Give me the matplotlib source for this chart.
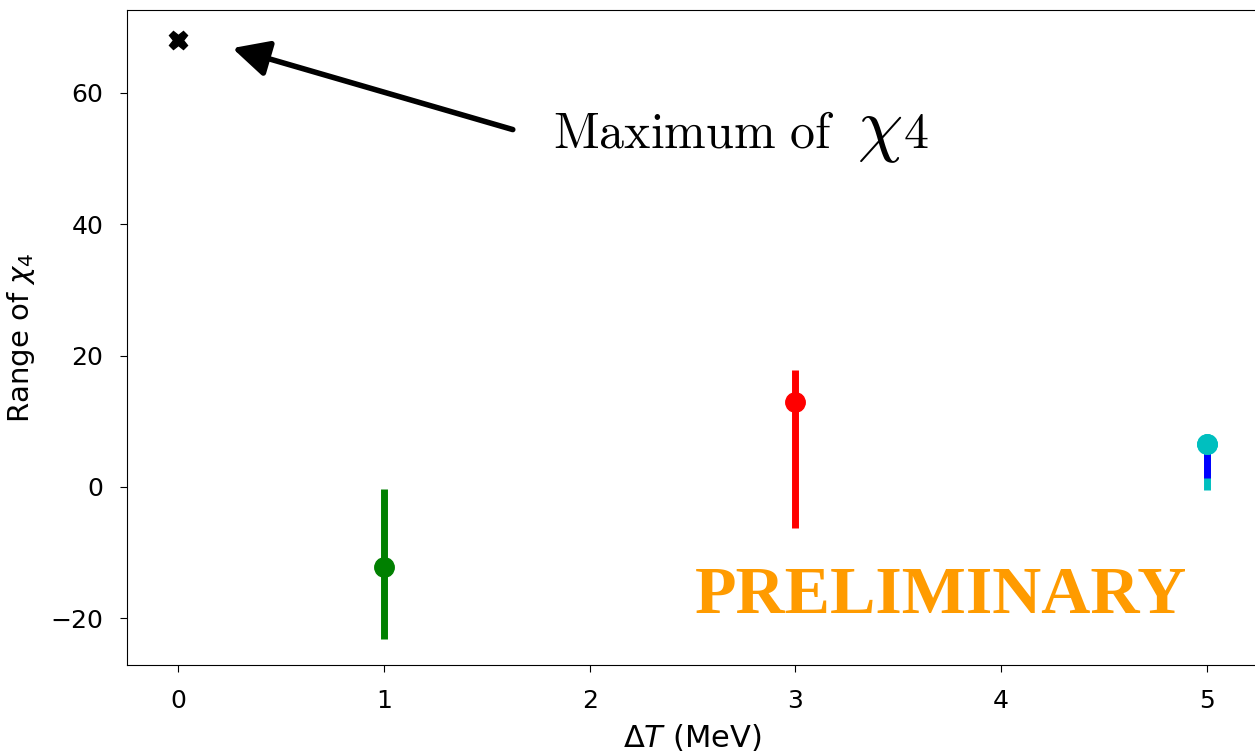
import matplotlib
matplotlib.use("Agg")
import matplotlib.pyplot as plt

plt.rcParams['mathtext.fontset'] = 'dejavusans'

# data
max_x = [0]
max_y = [68.0]

green_x = [1]
green_y = [-12.2]
green_lo = [-23.2]
green_hi = [-0.3]

red_x = [3]
red_y = [12.9]
red_lo = [-6.3]
red_hi = [17.8]

cyan_x = [5]
cyan_y = [6.5]
cyan_lo = [-0.5]
blue_lo = [1.4]

xticks = [0, 1, 2, 3, 4, 5]
yticks = [-20, 0, 20, 40, 60]

fig = plt.figure(figsize=(12.55, 7.53), dpi=100)
ax = fig.add_axes([0.1012, 0.1169, 0.9012, 0.8698])

def err(y, lo, hi):
    return [[y[i] - lo[i] for i in range(len(y))], [hi[i] - y[i] for i in range(len(y))]]

ax.plot(max_x, max_y, 'X', color='k', ms=13)
ax.errorbar(green_x, green_y, yerr=err(green_y, green_lo, green_hi), fmt='o',
            color='g', ms=14, elinewidth=5, capsize=0)
ax.errorbar(red_x, red_y, yerr=err(red_y, red_lo, red_hi), fmt='o',
            color='r', ms=14, elinewidth=5, capsize=0)
ax.errorbar(cyan_x, cyan_y, yerr=err(cyan_y, cyan_lo, cyan_y), fmt='o',
            color='c', ms=14, elinewidth=5, capsize=0)
ax.vlines(cyan_x, blue_lo, cyan_y, color='b', lw=5)
ax.plot(cyan_x, cyan_y, 'o', color='c', ms=14)

ax.set_xlim(-0.25, 5.25)
ax.set_ylim(-27.1, 72.6)
ax.set_xticks(xticks)
ax.set_yticks(yticks)
ax.spines['right'].set_visible(False)
ax.tick_params(labelsize=18, length=5, pad=12)
ax.set_xlabel(r'$\Delta T$ (MeV)', fontsize=22, labelpad=7)
ax.set_ylabel(r'Range of $\chi_4$', fontsize=21, labelpad=10)

ax.annotate('', xy=(0.262, 66.8), xytext=(1.626, 54.4),
            arrowprops=dict(arrowstyle='-|>', color='k', lw=4,
                            mutation_scale=55, shrinkA=0, shrinkB=0))

fig.text(553 / 1255, 1 - 148 / 753, r'$\mathrm{Maximum\ of}$',
         fontsize=36, math_fontfamily='cm')
fig.text(857 / 1255, 1 - 148 / 753, r'$\chi$', fontsize=52, math_fontfamily='cm')
fig.text(903 / 1255, 1 - 148 / 753, r'$\mathrm{4}$', fontsize=36, math_fontfamily='cm')

fig.text(695 / 1255, 1 - 613 / 753, 'PRELIMINARY', family='Liberation Serif',
         fontweight='bold', fontsize=49, color='#ff9b00')

fig.savefig('out.png', dpi=100)
